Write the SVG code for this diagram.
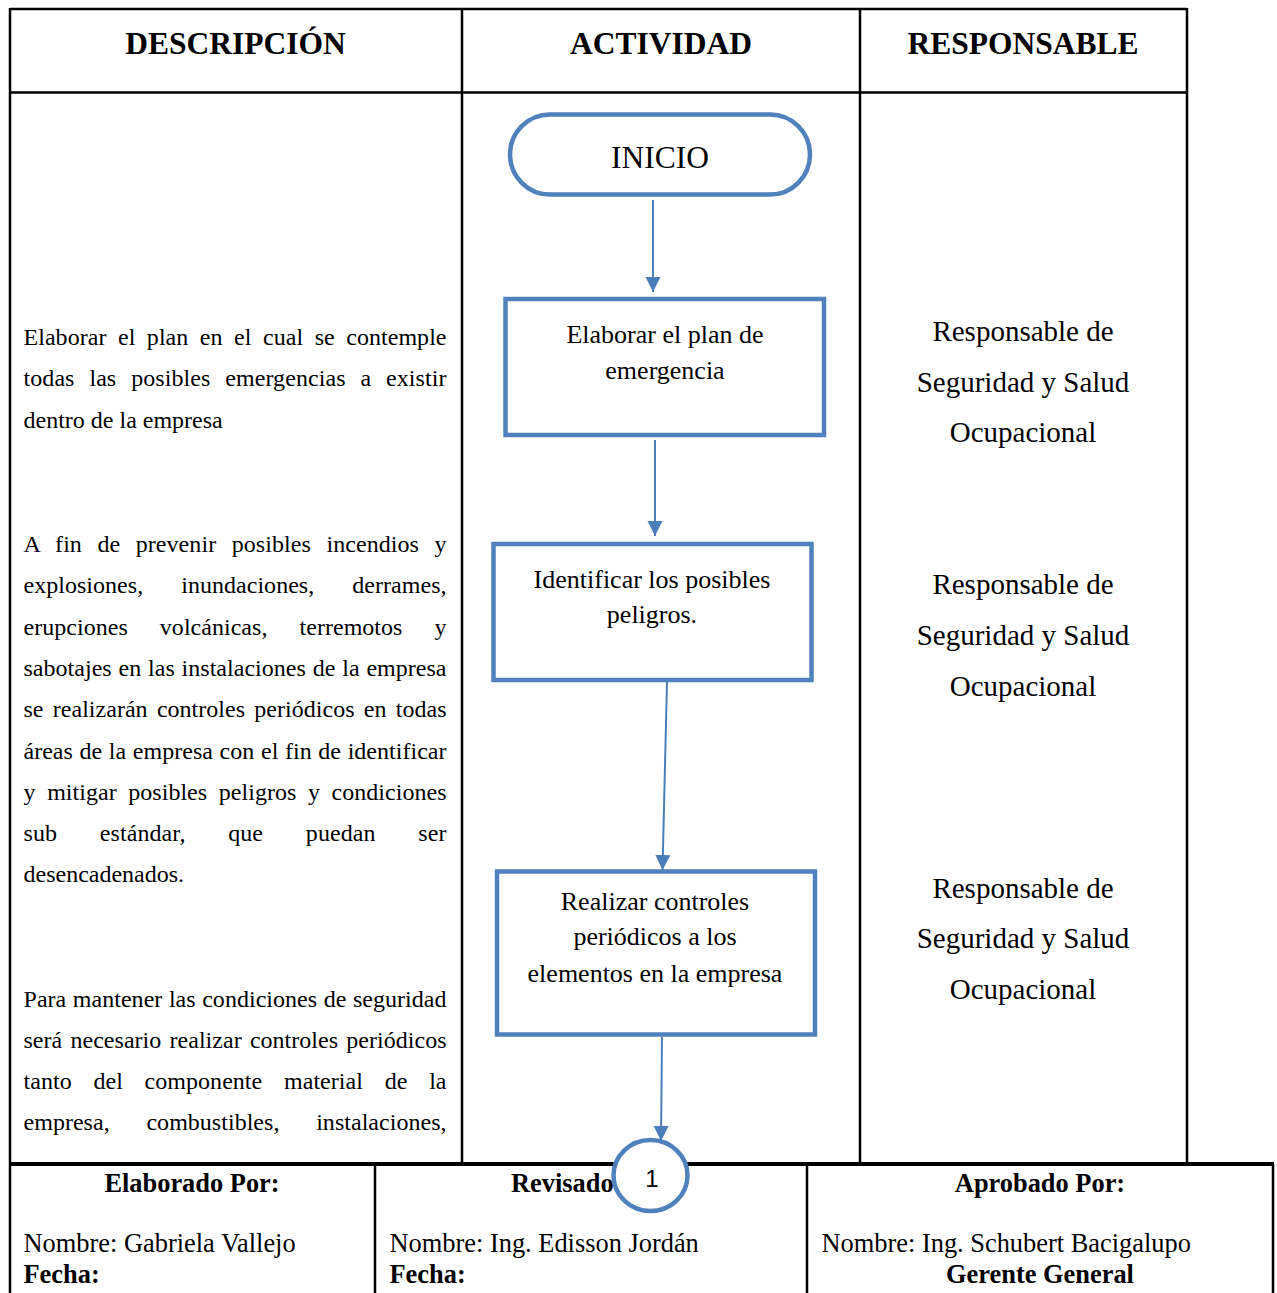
<svg xmlns="http://www.w3.org/2000/svg" width="1277" height="1293" viewBox="0 0 1277 1293">
  <style>
    .grid { stroke: #000; stroke-width: 2.5; fill: none; }
    .thick { stroke: #000; stroke-width: 4; fill: none; }
    .head { font-family: "Liberation Serif", "Times New Roman", serif; font-weight: bold; font-size: 31.5px; fill: #000; text-anchor: middle; }
    .desc { font-family: "Liberation Serif", "Times New Roman", serif; font-size: 24px; fill: #000; }
    .resp { font-family: "Liberation Serif", "Times New Roman", serif; font-size: 29px; fill: #000; text-anchor: middle; }
    .box { fill: #fff; stroke: #4f81bd; stroke-width: 4.5; }
    .lbl { font-family: "Liberation Serif", "Times New Roman", serif; font-size: 26px; fill: #000; text-anchor: middle; }
    .term { font-size: 31.5px; }
    .num { font-family: "Liberation Sans", Arial, sans-serif; font-size: 24px; fill: #000; text-anchor: middle; }
    .foot { font-family: "Liberation Serif", "Times New Roman", serif; font-size: 26.4px; fill: #000; }
    .b { font-weight: bold; }
    .mid { text-anchor: middle; }
    .conn { stroke: #4a7ebb; stroke-width: 2; fill: none; marker-end: url(#arrow); }
  </style>
  <defs>
    <marker id="arrow" markerUnits="userSpaceOnUse" markerWidth="16" markerHeight="16" refX="15" refY="8" orient="auto">
      <path d="M0,0.5 L15,8 L0,15.5 z" fill="#4a7ebb"/>
    </marker>
  </defs>

  <rect width="1277" height="1293" fill="#fff"/>

  <!-- table grid -->
  <g id="table">
    <line class="grid" x1="10" y1="9" x2="1187" y2="9"/>
    <line class="grid" x1="10" y1="92.5" x2="1187" y2="92.5"/>
    <line class="grid" x1="10" y1="8" x2="10" y2="1293"/>
    <line class="grid" x1="462" y1="8" x2="462" y2="1163"/>
    <line class="grid" x1="860" y1="8" x2="860" y2="1163"/>
    <line class="grid" x1="1187" y1="8" x2="1187" y2="1163"/>
    <line class="thick" x1="9" y1="1164" x2="1274" y2="1164"/>
    <line class="grid" x1="375" y1="1164" x2="375" y2="1293"/>
    <line class="grid" x1="807" y1="1164" x2="807" y2="1293"/>
    <line class="grid" x1="1273" y1="1164" x2="1273" y2="1293"/>
  </g>

  <!-- column headings -->
  <g id="headings">
    <text class="head" x="235.5" y="54">DESCRIPCIÓN</text>
    <text class="head" x="661" y="54">ACTIVIDAD</text>
    <text class="head" x="1023" y="54">RESPONSABLE</text>
  </g>

  <!-- description column, justified paragraphs -->
  <g id="description" class="desc">
    <text x="23.5" y="345" word-spacing="5.5" textLength="423" lengthAdjust="spacing">Elaborar el plan en el cual se contemple</text>
    <text x="23.5" y="386.3" word-spacing="8.8" textLength="423" lengthAdjust="spacing">todas las posibles emergencias a existir</text>
    <text x="23.5" y="427.6">dentro de la empresa</text>

    <text x="23.5" y="552" word-spacing="9.4" textLength="423" lengthAdjust="spacing">A fin de prevenir posibles incendios y</text>
    <text x="23.5" y="593.3" word-spacing="32" textLength="423" lengthAdjust="spacing">explosiones, inundaciones, derrames,</text>
    <text x="23.5" y="634.6" word-spacing="26" textLength="423" lengthAdjust="spacing">erupciones volcánicas, terremotos y</text>
    <text x="23.5" y="675.9" word-spacing="0.8" textLength="423" lengthAdjust="spacing">sabotajes en las instalaciones de la empresa</text>
    <text x="23.5" y="717.2" word-spacing="3.2" textLength="423" lengthAdjust="spacing">se realizarán controles periódicos en todas</text>
    <text x="23.5" y="758.5" word-spacing="0.6" textLength="423" lengthAdjust="spacing">áreas de la empresa con el fin de identificar</text>
    <text x="23.5" y="799.8" word-spacing="5.6" textLength="423" lengthAdjust="spacing">y mitigar posibles peligros y condiciones</text>
    <text x="23.5" y="841.1" word-spacing="36.7" textLength="423" lengthAdjust="spacing">sub estándar, que puedan ser</text>
    <text x="23.5" y="882.4">desencadenados.</text>

    <text x="23.5" y="1006.5" word-spacing="0.5" textLength="423" lengthAdjust="spacing">Para mantener las condiciones de seguridad</text>
    <text x="23.5" y="1047.8" word-spacing="2.2" textLength="423" lengthAdjust="spacing">será necesario realizar controles periódicos</text>
    <text x="23.5" y="1089.1" word-spacing="15.7" textLength="423" lengthAdjust="spacing">tanto del componente material de la</text>
    <text x="23.5" y="1130.4" word-spacing="30.7" textLength="423" lengthAdjust="spacing">empresa, combustibles, instalaciones,</text>
  </g>

  <!-- responsible column -->
  <g id="responsible" class="resp">
    <text x="1023" y="341">Responsable de</text>
    <text x="1023" y="392">Seguridad y Salud</text>
    <text x="1023" y="442">Ocupacional</text>

    <text x="1023" y="594">Responsable de</text>
    <text x="1023" y="645">Seguridad y Salud</text>
    <text x="1023" y="696">Ocupacional</text>

    <text x="1023" y="898">Responsable de</text>
    <text x="1023" y="948">Seguridad y Salud</text>
    <text x="1023" y="999">Ocupacional</text>
  </g>

  <!-- signature footer -->
  <g id="footer" class="foot">
    <text class="b mid" x="192" y="1192">Elaborado Por:</text>
    <text x="23.5" y="1252">Nombre: Gabriela Vallejo</text>
    <text class="b" x="23.5" y="1283">Fecha:</text>

    <text class="b" x="511" y="1192">Revisado</text>
    <text x="389.5" y="1252">Nombre: Ing. Edisson Jordán</text>
    <text class="b" x="389.5" y="1283">Fecha:</text>

    <text class="b mid" x="1040" y="1192">Aprobado Por:</text>
    <text x="821.5" y="1252">Nombre: Ing. Schubert Bacigalupo</text>
    <text class="b mid" x="1040" y="1283">Gerente General</text>
  </g>

  <!-- flow connectors -->
  <g id="connectors">
    <line class="conn" x1="653" y1="200" x2="653" y2="292"/>
    <line class="conn" x1="655" y1="440" x2="655" y2="536"/>
    <line class="conn" x1="667" y1="682" x2="662.5" y2="870"/>
    <line class="conn" x1="662" y1="1037" x2="661" y2="1141"/>
  </g>

  <!-- flow nodes -->
  <g id="node-inicio">
    <rect class="box" x="510" y="114.5" width="300" height="80" rx="40" ry="40"/>
    <text class="lbl term" x="660" y="168">INICIO</text>
  </g>
  <g id="node-elaborar">
    <rect class="box" x="505.5" y="299" width="318.5" height="136"/>
    <text class="lbl" x="665" y="343">Elaborar el plan de</text>
    <text class="lbl" x="665" y="379">emergencia</text>
  </g>
  <g id="node-identificar">
    <rect class="box" x="493.5" y="544" width="318" height="136"/>
    <text class="lbl" x="652" y="588">Identificar los posibles</text>
    <text class="lbl" x="652" y="623">peligros.</text>
  </g>
  <g id="node-controles">
    <rect class="box" x="497" y="871.5" width="318" height="163"/>
    <text class="lbl" x="655" y="910">Realizar controles</text>
    <text class="lbl" x="655" y="945">periódicos a los</text>
    <text class="lbl" x="655" y="982">elementos en la empresa</text>
  </g>
  <g id="node-conector-1">
    <ellipse cx="650.5" cy="1175.5" rx="37" ry="35.5" fill="#fff" stroke="#4f81bd" stroke-width="4.5"/>
    <text class="num" x="652" y="1187">1</text>
  </g>
</svg>
